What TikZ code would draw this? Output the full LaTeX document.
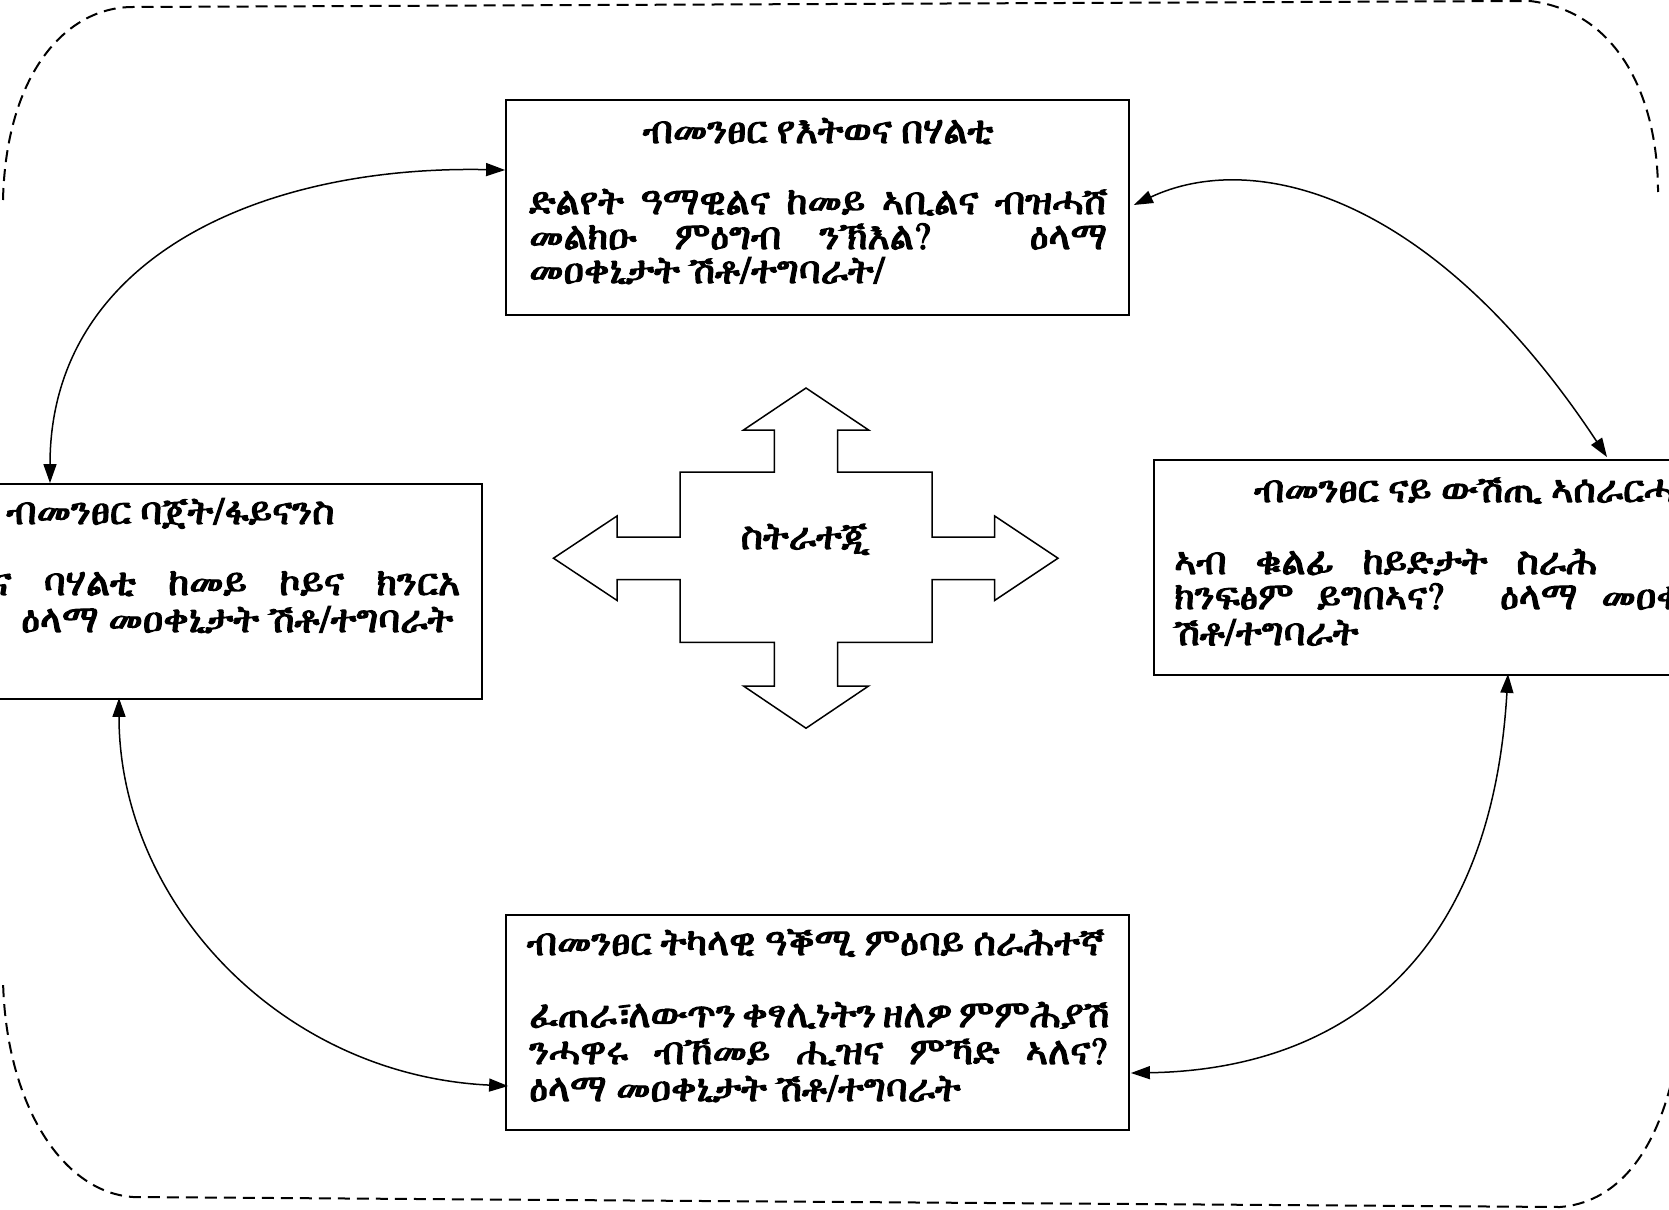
\documentclass[tikz,border=0pt]{standalone}
\usepackage{fontspec}
\usetikzlibrary{arrows.meta}
\def\ethfont{}
\def\ethtry#1{%
  \ifx\ethfont\empty
    \IfFontExistsTF{#1}{%
      \newfontfamily\ethcand{#1}[BoldFont={#1},BoldFeatures={FakeBold=3}]%
      \setbox0\hbox{\ethcand\iffontchar\font"1265 \global\let\ethfont\ethcand\fi}%
    }{}%
  \fi}
\ethtry{FreeSerif}
\ethtry{Abyssinica SIL}
\ethtry{Noto Sans Ethiopic}
\ethtry{Noto Serif Ethiopic}
\ifx\ethfont\empty \newfontfamily\ethfont{DejaVu Sans}\fi
\newcommand\jline[2]{\makebox[#1][s]{#2}}
\tikzset{
  box/.style={draw, line width=1.8pt, minimum width=623pt, minimum height=215pt, inner sep=0pt},
  txt/.style={anchor=base west, inner sep=0pt, font=\ethfont\bfseries\fontsize{38}{44}\selectfont},
  ttl/.style={anchor=base, inner sep=0pt, font=\ethfont\bfseries\fontsize{38}{44}\selectfont},
  link/.style={line width=1.5pt, {Triangle[length=19pt,width=13pt]}-{Triangle[length=19pt,width=13pt]}},
  border/.style={line width=2pt, dash pattern=on 12pt off 7pt},
  cross/.style={line width=1.5pt, line join=miter}
}
\begin{document}
\begin{tikzpicture}[x=1pt,y=-1pt]
\useasboundingbox (0,0) rectangle (1669,1209);
\fill[white] (0,0) rectangle (1669,1209);
\clip (0,0) rectangle (1669,1209);

% dashed frame
\draw[border] (3,200) .. controls (6,75) and (65,7) .. (133,7) -- (1530,1)
  .. controls (1620,12) and (1658,100) .. (1658,192);
\draw[border] (1675,1066) .. controls (1656,1160) and (1612,1203) .. (1560,1207)
  -- (133,1197) .. controls (60,1192) and (5,1100) .. (3,979);

% boxes
\node[box] (top) at (817.5,207.5) {};
\node[box] (left) at (170.5,591.5) {};
\node[box] (right) at (1465.5,567.5) {};
\node[box] (bot) at (817.5,1022.5) {};

% top box text
\node[ttl] (toptitle) at (818,143) {ብመንፀር የእትወና በሃልቲ};
\node[txt] (topl1) at (529,214) {\jline{578pt}{ድልየት ዓማዊልና ከመይ ኣቢልና ብዝሓሸ}};
\node[txt] (topl2) at (529,249) {\jline{578pt}{መልክዑ ምዕግብ ንኽእል? ዕላማ}};
\node[txt] (topl3) at (529,283) {መዐቀኒታት ሽቶ/ተግባራት/};

% left box text
\node[ttl] (lefttitle) at (170.5,524) {ብመንፀር ባጀት/ፋይናንስ};
\node[txt] (leftl1) at (-9,595) {\jline{469pt}{ና ባሃልቲ ከመይ ኮይና ክንርአ}};
\node[txt] (leftl2) at (21,632) {\jline{432pt}{ዕላማ መዐቀኒታት ሽቶ/ተግባራት}};

% right box text
\node[txt] (righttitle) at (1254,502) {ብመንፀር ናይ ውሽጢ ኣሰራርሓ};
\node[txt] (rightl1) at (1174,574) {\jline{423pt}{ኣብ ቁልፊ ከይድታት ስራሕ}};
\node[txt] (rightl2) at (1174,609) {\jline{578pt}{ክንፍፅም ይግበኣና? ዕላማ መዐቀኒታት}};
\node[txt] (rightl3) at (1174,645) {ሽቶ/ተግባራት};

% bottom box text
\node[ttl] (bottitle) at (815.5,955) {ብመንፀር ትካላዊ ዓቕሚ ምዕባይ ሰራሕተኛ};
\node[txt] (botl1) at (529,1027) {\jline{578pt}{ፈጠራ፣\kern-4pt ለውጥን ቀፃሊነትን ዘለዎ ምምሕያሽ}};
\node[txt] (botl2) at (529,1064) {\jline{578pt}{ንሓዋሩ ብኸመይ ሒዝና ምኻድ ኣለና?}};
\node[txt] (botl3) at (529,1101) {ዕላማ መዐቀኒታት ሽቶ/ተግባራት};

% central four-way arrow
\draw[cross] (806,388) -- (868.6,430) -- (837.5,430) -- (837.5,472) -- (932,472) -- (932,537)
  -- (994.7,537) -- (994.7,516) -- (1058,558.2) -- (994.7,600.4) -- (994.7,579.5) -- (932,579.5)
  -- (932,642.3) -- (837.5,642.3) -- (837.5,686) -- (868.6,686) -- (806,728.2) -- (743.5,686)
  -- (774.3,686) -- (774.3,642.3) -- (680,642.3) -- (680,579.5) -- (617,579.5) -- (617,600.4)
  -- (553.5,558.2) -- (617,516) -- (617,537) -- (680,537) -- (680,472) -- (774.3,472)
  -- (774.3,430) -- (743.5,430) -- cycle;
\node[ttl] (strat) at (805,549) {ስትራተጂ};

% curved connectors
\draw[link] ([xshift=-120.5pt]left.north) .. controls +(0,-224) and +(-246,-5) .. ([yshift=37.5pt]top.west);
\draw[link] ([xshift=4pt,yshift=2.5pt]top.east) .. controls +(117,-55) and +(-177,-268) .. ([xshift=141.5pt,yshift=2pt]right.north);
\draw[link] ([xshift=-51.5pt,yshift=2pt]left.south) .. controls +(0,203) and +(-229,-11) .. ([xshift=3pt,yshift=-63.5pt]bot.west);
\draw[link] ([xshift=42.5pt,yshift=2pt]right.south) .. controls +(-18,307) and +(190,-3) .. ([xshift=1pt,yshift=-50.5pt]bot.east);
\end{tikzpicture}
\end{document}
